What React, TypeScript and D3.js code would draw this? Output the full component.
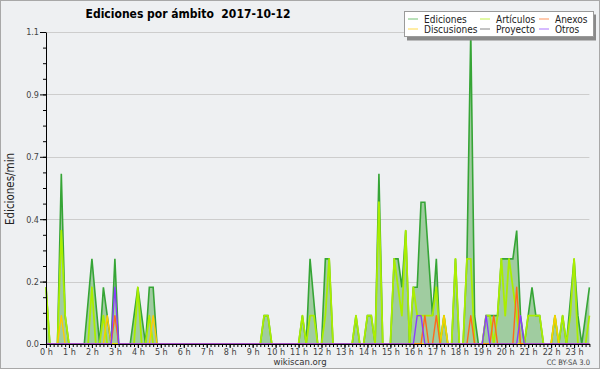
import React, { useRef, useEffect } from "react";
import { select, scaleLinear, line, area, axisLeft, axisBottom, format, range } from "d3";

// ediciones/min in 10-minute bins, 00:00 .. 23:40
const ediciones = [
  0.2, 0, 0, 0, 0.6, 0.1, 0, 0, 0, 0, 0, 0.15,
  0.3, 0.15, 0, 0.2, 0.1, 0, 0.3, 0, 0, 0, 0, 0.1,
  0.2, 0.1, 0, 0.2, 0.2, 0, 0, 0, 0, 0, 0, 0,
  0, 0, 0, 0, 0, 0, 0, 0, 0, 0, 0, 0,
  0, 0, 0, 0, 0, 0, 0, 0, 0, 0.1, 0.1, 0,
  0, 0, 0, 0, 0, 0, 0, 0.1, 0, 0.3, 0.15, 0,
  0, 0.3, 0.3, 0, 0, 0, 0, 0, 0, 0.1, 0, 0,
  0.1, 0.1, 0, 0.6, 0, 0, 0, 0.3, 0.3, 0.2, 0.4, 0,
  0.2, 0.2, 0.5, 0.5, 0.3, 0.1, 0.3, 0, 0.1, 0, 0, 0.3,
  0, 0, 0.3, 1.1, 0.1, 0, 0, 0.1, 0.1, 0.1, 0.1, 0.3,
  0.3, 0.3, 0.3, 0.4, 0.1, 0, 0.1, 0.2, 0.1, 0.1, 0, 0,
  0, 0.1, 0, 0.1, 0, 0.15, 0.3, 0.1, 0, 0.1, 0.2
];
const articulos = [
  0.2, 0, 0, 0, 0.4, 0.1, 0, 0, 0, 0, 0, 0,
  0.2, 0, 0, 0.1, 0, 0, 0, 0, 0, 0, 0, 0,
  0.2, 0, 0, 0.1, 0, 0, 0, 0, 0, 0, 0, 0,
  0, 0, 0, 0, 0, 0, 0, 0, 0, 0, 0, 0,
  0, 0, 0, 0, 0, 0, 0, 0, 0, 0.1, 0.1, 0,
  0, 0, 0, 0, 0, 0, 0, 0.1, 0, 0.1, 0.1, 0,
  0, 0.1, 0.3, 0, 0, 0, 0, 0, 0, 0.1, 0, 0,
  0.1, 0.1, 0, 0.5, 0, 0, 0, 0.3, 0.2, 0.1, 0.4, 0,
  0.2, 0.1, 0.1, 0.1, 0.1, 0.1, 0.2, 0, 0.1, 0, 0, 0.3,
  0, 0, 0.3, 0.3, 0, 0, 0, 0.1, 0.1, 0, 0.1, 0.3,
  0.1, 0.3, 0.2, 0.1, 0, 0, 0.1, 0.1, 0.1, 0.1, 0, 0,
  0, 0.1, 0, 0.1, 0, 0.1, 0.3, 0, 0, 0, 0.1
];
const discusiones = [
  0, 0, 0, 0, 0.1, 0, 0, 0, 0, 0, 0, 0,
  0, 0, 0, 0, 0.1, 0, 0, 0, 0, 0, 0, 0,
  0, 0, 0, 0, 0.1, 0, 0, 0, 0, 0, 0, 0,
  0, 0, 0, 0, 0, 0, 0, 0, 0, 0, 0, 0,
  0, 0, 0, 0, 0, 0, 0, 0, 0, 0, 0, 0,
  0, 0, 0, 0, 0, 0, 0, 0, 0, 0, 0, 0,
  0, 0, 0, 0, 0, 0, 0, 0, 0, 0, 0, 0,
  0, 0, 0, 0, 0, 0, 0, 0, 0, 0, 0, 0,
  0, 0, 0, 0, 0, 0, 0, 0, 0.1, 0, 0, 0,
  0, 0, 0, 0, 0, 0, 0, 0, 0, 0, 0, 0,
  0, 0, 0, 0, 0, 0, 0, 0, 0, 0, 0, 0,
  0, 0.1, 0, 0, 0, 0, 0, 0, 0, 0, 0
];
const anexos = [
  0, 0, 0, 0, 0, 0, 0, 0, 0, 0, 0, 0,
  0, 0, 0, 0, 0, 0, 0.1, 0, 0, 0, 0, 0,
  0, 0, 0, 0, 0, 0, 0, 0, 0, 0, 0, 0,
  0, 0, 0, 0, 0, 0, 0, 0, 0, 0, 0, 0,
  0, 0, 0, 0, 0, 0, 0, 0, 0, 0, 0, 0,
  0, 0, 0, 0, 0, 0, 0, 0, 0, 0, 0, 0,
  0, 0, 0, 0, 0, 0, 0, 0, 0, 0, 0, 0,
  0, 0, 0, 0, 0, 0, 0, 0, 0, 0, 0, 0,
  0, 0, 0, 0.1, 0, 0, 0.1, 0, 0, 0, 0, 0,
  0, 0, 0, 0.1, 0, 0, 0, 0, 0, 0.1, 0, 0,
  0, 0, 0, 0.2, 0, 0, 0, 0, 0, 0, 0, 0,
  0, 0, 0, 0, 0, 0, 0, 0, 0, 0, 0
];
const otros = [
  0, 0, 0, 0, 0, 0, 0, 0, 0, 0, 0, 0,
  0, 0, 0, 0, 0, 0, 0.2, 0, 0, 0, 0, 0,
  0, 0, 0, 0, 0, 0, 0, 0, 0, 0, 0, 0,
  0, 0, 0, 0, 0, 0, 0, 0, 0, 0, 0, 0,
  0, 0, 0, 0, 0, 0, 0, 0, 0, 0, 0, 0,
  0, 0, 0, 0, 0, 0, 0, 0, 0, 0, 0, 0,
  0, 0, 0, 0, 0, 0, 0, 0, 0, 0, 0, 0,
  0, 0, 0, 0, 0, 0, 0, 0, 0, 0, 0, 0,
  0, 0.1, 0.1, 0, 0, 0, 0, 0, 0, 0, 0, 0,
  0, 0, 0, 0, 0, 0, 0, 0.1, 0, 0, 0, 0,
  0, 0, 0, 0, 0.1, 0, 0, 0, 0, 0, 0, 0,
  0, 0, 0, 0, 0, 0, 0, 0, 0, 0, 0
];

const yTicks = [0, 0.22, 0.44, 0.66, 0.88, 1.1];
const hourTicks = [0, 1, 2, 3, 4, 5, 6, 7, 8, 9, 10, 11, 12, 13, 14, 15, 16, 17, 18, 19, 20, 21, 22, 23];
const legendNames = ["Ediciones", "Artículos", "Anexos", "Discusiones", "Proyecto", "Otros"];
const legendColors = ["#3aaa3a", "#aaee00", "#ff6a1a", "#ffcc00", "#555555", "#8a3cff"];

const FONT = "'DejaVu Sans Condensed', 'DejaVu Sans', sans-serif";

function App() {
  const svgRef = useRef<SVGSVGElement>(null);

  useEffect(() => {
    const svg = select(svgRef.current);
    svg.selectAll("*").remove();

    const n = ediciones.length;
    const x = scaleLinear().domain([0, n - 1]).range([46, 589.4]);
    const xh = scaleLinear().domain([0, (n - 1) / 6]).range([46, 589.4]);
    const y = scaleLinear().domain([0, 1.1]).range([344, 32]);

    // background + frame
    svg.append("rect")
      .attr("x", 0.5).attr("y", 0.5).attr("width", 599).attr("height", 368)
      .attr("fill", "#eef0f2").attr("stroke", "#a8a8a8");

    // grid
    svg.append("g").selectAll("line").data(yTicks).join("line")
      .attr("x1", 46).attr("x2", 589.4)
      .attr("y1", d => Math.round(y(d)) + 0.5).attr("y2", d => Math.round(y(d)) + 0.5)
      .attr("stroke", "#cdcdcd");

    const myArea = area<number>().x((d, i) => x(i)).y0(y(0)).y1(d => y(d));
    const myLine = line<number>().x((d, i) => x(i)).y(d => y(d));

    svg.append("path").datum(ediciones).attr("d", myArea)
      .attr("fill", "#a0cca0");
    svg.append("path").datum(ediciones).attr("d", myLine)
      .attr("fill", "none").attr("stroke", "#36a536").attr("stroke-width", 1.6);

    const series = [
      { data: articulos, color: legendColors[1], w: 1.8 },
      { data: discusiones, color: legendColors[3], w: 1.4 },
      { data: anexos, color: legendColors[2], w: 1.4 },
      { data: otros, color: legendColors[5], w: 1.4 }
    ];
    series.forEach(s => {
      svg.append("path").datum(s.data).attr("d", myLine)
        .attr("fill", "none").attr("stroke", s.color).attr("stroke-width", s.w)
        .attr("stroke-linejoin", "round");
    });

    // y axis
    const gy = svg.append("g").attr("transform", "translate(46,0)");
    gy.call(axisLeft(y).tickValues(yTicks).tickSize(6).tickSizeOuter(0).tickPadding(1).tickFormat(format(".1f")));
    svg.append("g").attr("transform", "translate(46,0)")
      .call(axisLeft(y).tickValues(range(0, 1.1001, 0.055)).tickSize(3).tickFormat(() => ""))
      .select(".domain").remove();

    // x axis
    const gx = svg.append("g").attr("transform", "translate(0,344)");
    gx.call(axisBottom(x).tickValues(range(0, n)).tickSize(3).tickSizeOuter(0).tickFormat(() => ""));
    svg.append("g").attr("transform", "translate(0,344)")
      .call(axisBottom(xh).tickValues(hourTicks).tickSize(4).tickPadding(1).tickFormat(h => `${h} h`))
      .select(".domain").remove();

    svg.selectAll(".tick text")
      .attr("font-family", FONT).attr("font-size", 9).attr("fill", "#444");
    svg.selectAll(".tick line").attr("stroke", "#000");

    // y label
    svg.append("text")
      .attr("transform", "translate(14,189) rotate(-90)")
      .attr("text-anchor", "middle")
      .attr("font-family", FONT).attr("font-size", 11.5).attr("fill", "#222")
      .text("Ediciones/min");

    // title
    svg.append("text")
      .attr("x", 188).attr("y", 18).attr("text-anchor", "middle")
      .attr("font-family", FONT).attr("font-size", 12).attr("font-weight", "bold")
      .style("white-space", "pre")
      .text("Ediciones por ámbito  2017-10-12");

    // footer
    svg.append("text")
      .attr("x", 300).attr("y", 365).attr("text-anchor", "middle")
      .attr("font-family", FONT).attr("font-size", 9.5).attr("fill", "#333")
      .text("wikiscan.org");
    svg.append("text")
      .attr("x", 590).attr("y", 365).attr("text-anchor", "end")
      .attr("font-family", FONT).attr("font-size", 7.5).attr("fill", "#444")
      .text("CC BY-SA 3.0");

    // legend
    const lg = svg.append("g");
    lg.append("rect").attr("x", 407).attr("y", 14.5).attr("width", 189).attr("height", 26).attr("fill", "#8a8a8a");
    lg.append("rect").attr("x", 404.5).attr("y", 11.5).attr("width", 189).attr("height", 25)
      .attr("fill", "#fff").attr("stroke", "#9a9a9a");
    const colX = [408, 480, 539];
    const rowY = [19, 29];
    legendNames.forEach((name, i) => {
      const cx = colX[i % 3];
      const cy = rowY[Math.floor(i / 3)];
      lg.append("line").attr("x1", cx).attr("x2", cx + 10).attr("y1", cy).attr("y2", cy)
        .attr("stroke", legendColors[i]).attr("stroke-width", 1).attr("opacity", 0.7);
      lg.append("text").attr("x", cx + 16).attr("y", cy + 3.5)
        .attr("font-family", FONT).attr("font-size", 10).attr("fill", "#222")
        .text(name);
    });
  }, []);

  return (
    <svg ref={svgRef} width={600} height={370} style={{ position: "absolute", left: 0, top: 0 }} />
  );
}

export default App;
